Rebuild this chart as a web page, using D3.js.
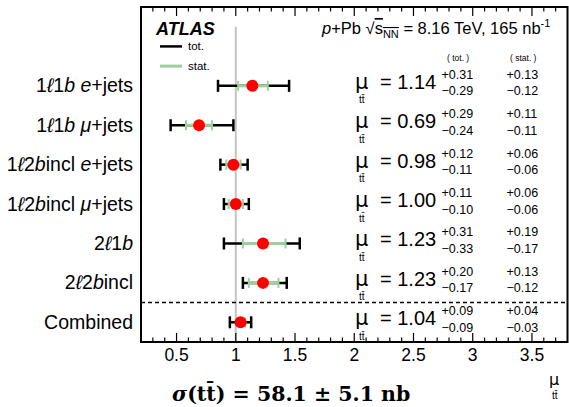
<!DOCTYPE html>
<html>
<head>
<meta charset="utf-8">
<script src="https://cdn.jsdelivr.net/npm/d3@7"></script>
<style>
  html, body { margin: 0; padding: 0; background: #fff; }
  svg { display: block; font-family: "Liberation Sans", Arial, sans-serif; }
</style>
</head>
<body>
<svg id="chart" width="569" height="407"></svg>
<script>
// Signal-strength measurements per analysis channel
const channels = ["1ℓ1b e+jets", "1ℓ1b μ+jets", "1ℓ2bincl e+jets", "1ℓ2bincl μ+jets", "2ℓ1b", "2ℓ2bincl", "Combined"];
const mu      = [1.14, 0.69, 0.98, 1.00, 1.23, 1.23, 1.04];
const totUp   = [0.31, 0.29, 0.12, 0.11, 0.31, 0.20, 0.09];
const totDown = [0.29, 0.24, 0.11, 0.10, 0.33, 0.17, 0.09];
const statUp  = [0.13, 0.11, 0.06, 0.06, 0.19, 0.13, 0.04];
const statDown= [0.12, 0.11, 0.06, 0.06, 0.17, 0.12, 0.03];
const xTicks  = [0.5, 1, 1.5, 2, 2.5, 3, 3.5];

// Rich-text pieces for the channel labels: [text, italic]
const labelParts = [
  [["1", false], ["ℓ", true], ["1", false], ["b", true], [" ", false], ["e", true], ["+jets", false]],
  [["1", false], ["ℓ", true], ["1", false], ["b", true], [" ", false], ["μ", true], ["+jets", false]],
  [["1", false], ["ℓ", true], ["2", false], ["b", true], ["incl ", false], ["e", true], ["+jets", false]],
  [["1", false], ["ℓ", true], ["2", false], ["b", true], ["incl ", false], ["μ", true], ["+jets", false]],
  [["2", false], ["ℓ", true], ["1", false], ["b", true]],
  [["2", false], ["ℓ", true], ["2", false], ["b", true], ["incl", false]],
  [["Combined", false]]
];

const svg = d3.select("#chart");
const plotL = 141, plotR = 567.5, plotT = 7, plotB = 342;

const x = d3.scaleLinear().domain([0.2, 3.8]).range([plotL, plotR]);
const y = d3.scaleLinear().domain([-2, 6.5]).range([plotT, plotB]);

const green = "#9dcf9d";

// reference line at mu = 1
svg.append("line")
  .attr("x1", x(1)).attr("x2", x(1))
  .attr("y1", y(-1.5)).attr("y2", plotB)
  .attr("stroke", "#c4c4c4").attr("stroke-width", 2);

// separator before the combined result
svg.append("line")
  .attr("x1", plotL).attr("x2", plotR)
  .attr("y1", y(5.5)).attr("y2", y(5.5))
  .attr("stroke", "#000").attr("stroke-width", 1.5)
  .attr("stroke-dasharray", "4,3");

// bottom and top axes with inward ticks
const minorTicks = d3.range(3, 38).map(v => v / 10).filter(v => Math.abs(v * 2 - Math.round(v * 2)) > 1e-6);
const axisG = svg.append("g");
function drawTicks(yBase, dir) {
  axisG.selectAll(null).data(xTicks).enter().append("line")
    .attr("x1", d => x(d)).attr("x2", d => x(d))
    .attr("y1", yBase).attr("y2", yBase + dir * 9)
    .attr("stroke", "#000").attr("stroke-width", 1.2);
  axisG.selectAll(null).data(minorTicks).enter().append("line")
    .attr("x1", d => x(d)).attr("x2", d => x(d))
    .attr("y1", yBase).attr("y2", yBase + dir * 4.5)
    .attr("stroke", "#000").attr("stroke-width", 1.2);
}
drawTicks(plotB, -1);
drawTicks(plotT, 1);

axisG.selectAll(null).data(xTicks).enter().append("text")
  .attr("x", d => x(d)).attr("y", 361)
  .attr("text-anchor", "middle")
  .attr("font-size", 17.5)
  .text(d => d);

// frame
svg.append("rect")
  .attr("x", plotL).attr("y", plotT)
  .attr("width", plotR - plotL).attr("height", plotB - plotT)
  .attr("fill", "none").attr("stroke", "#000").attr("stroke-width", 2);

// error bars, markers and per-channel text
const rows = svg.append("g");
channels.forEach((c, i) => {
  const g = rows.append("g");
  const yc = y(i);
  // total uncertainty
  g.append("line").attr("x1", x(mu[i] - totDown[i])).attr("x2", x(mu[i] + totUp[i]))
    .attr("y1", yc).attr("y2", yc).attr("stroke", "#000").attr("stroke-width", 2.5);
  [mu[i] - totDown[i], mu[i] + totUp[i]].forEach(v => {
    g.append("line").attr("x1", x(v)).attr("x2", x(v))
      .attr("y1", yc - 6).attr("y2", yc + 6).attr("stroke", "#000").attr("stroke-width", 2.5);
  });
  // statistical uncertainty
  g.append("line").attr("x1", x(mu[i] - statDown[i])).attr("x2", x(mu[i] + statUp[i]))
    .attr("y1", yc).attr("y2", yc).attr("stroke", green).attr("stroke-width", 3);
  [mu[i] - statDown[i], mu[i] + statUp[i]].forEach(v => {
    g.append("line").attr("x1", x(v)).attr("x2", x(v))
      .attr("y1", yc - 5).attr("y2", yc + 5).attr("stroke", green).attr("stroke-width", 2);
  });
  g.append("circle").attr("cx", x(mu[i])).attr("cy", yc).attr("r", 6).attr("fill", "#ff0000");

  // channel label
  const t = svg.append("text").attr("x", 133).attr("y", yc + 6.5)
    .attr("text-anchor", "end").attr("font-size", 19.5);
  labelParts[i].forEach(([s, it]) => {
    t.append("tspan").attr("font-style", it ? "italic" : "normal")
      .style("white-space", "pre").text(s);
  });

  // result text
  svg.append("text").attr("x", 355).attr("y", yc + 3).attr("font-size", 21)
    .attr("font-family", "'DejaVu Sans', sans-serif").text("μ");
  svg.append("text").attr("x", 359).attr("y", yc + 17.5).attr("font-size", 10).text("tt\u0304");
  svg.append("text").attr("x", 380).attr("y", yc + 3).attr("font-size", 20)
    .text("= " + mu[i].toFixed(2));
  const col = [[441.5, totUp[i], totDown[i]], [506.5, statUp[i], statDown[i]]];
  col.forEach(([cx, up, dn]) => {
    svg.append("text").attr("x", cx).attr("y", yc - 7).attr("font-size", 12.5).text("+" + up.toFixed(2));
    svg.append("text").attr("x", cx).attr("y", yc + 9.5).attr("font-size", 12.5).text("\u2212" + dn.toFixed(2));
  });
});

// column headers
svg.append("text").attr("x", 447).attr("y", 61).attr("font-size", 8.5).text("( tot. )");
svg.append("text").attr("x", 510).attr("y", 61).attr("font-size", 8.5).text("( stat. )");

// legend
svg.append("line").attr("x1", 160).attr("x2", 182).attr("y1", y(-1)).attr("y2", y(-1))
  .attr("stroke", "#000").attr("stroke-width", 2.5);
svg.append("text").attr("x", 188).attr("y", y(-1) + 4).attr("font-size", 11.5).text("tot.");
svg.append("line").attr("x1", 160).attr("x2", 182).attr("y1", y(-0.5)).attr("y2", y(-0.5))
  .attr("stroke", green).attr("stroke-width", 3);
svg.append("text").attr("x", 188).attr("y", y(-0.5) + 4).attr("font-size", 11.5).text("stat.");

// header
svg.append("text").attr("x", 156).attr("y", 35).attr("font-size", 18)
  .attr("font-weight", "bold").attr("font-style", "italic").text("ATLAS");
const hdr = svg.append("text").attr("x", 322).attr("y", 34).attr("font-size", 16.5);
hdr.append("tspan").attr("font-style", "italic").text("p");
hdr.append("tspan").text("+Pb \u221A");
hdr.append("tspan").style("text-decoration", "overline").text("s");
hdr.append("tspan").attr("font-size", 11).attr("dy", 4).style("text-decoration", "overline").text("NN");
hdr.append("tspan").attr("dy", -4).text(" = 8.16 TeV, 165 nb");
hdr.append("tspan").attr("font-size", 11).attr("dy", -7).text("-1");

// axis title
svg.append("text").attr("x", 549).attr("y", 385).attr("font-size", 16)
  .attr("font-family", "'DejaVu Sans', sans-serif").text("μ");
svg.append("text").attr("x", 552).attr("y", 399).attr("font-size", 10).text("tt\u0304");

// cross-section result
const sig = svg.append("text").attr("x", 172).attr("y", 401)
  .attr("font-size", 20.5).attr("font-weight", "bold")
  .attr("font-family", "'DejaVu Serif', serif");
sig.append("tspan").attr("font-style", "italic").text("σ");
sig.append("tspan").text("(tt\u0304) = 58.1 ± 5.1 nb");
</script>
</body>
</html>
